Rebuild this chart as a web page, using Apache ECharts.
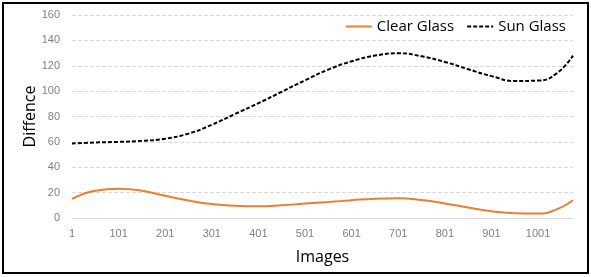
<!DOCTYPE html>
<html>
<head>
<meta charset="utf-8">
<script src="https://cdn.jsdelivr.net/npm/echarts@6/dist/echarts.min.js"></script>
<style>
    body { margin: 0; background: #fff; }
    #chart { width: 591px; height: 277px; }
</style>
</head>
<body>
<div id="chart"></div>
<script>
// image index (x) and differences
const images = [1, 51, 101, 151, 201, 251, 301, 351, 401, 451, 501, 551, 601, 651, 701, 751, 801, 851, 901, 951, 1001, 1041, 1076];
const clearGlass = [15, 21.5, 23, 21.5, 17.5, 13.8, 11, 9.6, 9.2, 10, 11.4, 12.6, 14, 15.2, 15.6, 14.2, 11.5, 8.2, 5.4, 3.7, 3.5, 6.8, 14];
const sunGlass = [58.8, 59.5, 60, 60.8, 62.5, 66.5, 73.5, 82, 90.5, 99.5, 108.5, 117, 123.5, 128, 129.8, 127.5, 123, 117.3, 111.8, 108, 108.3, 114, 128];
const yTicks = { min: 0, max: 160, step: 20 };

// x axis runs on (image - 1) so ticks fall on 1, 101, 201 ...
const pairs = (ys) => images.map((x, i) => [x - 1, ys[i]]);

const chart = echarts.init(document.getElementById("chart"));
chart.setOption({
    animation: false,
    grid: { left: 72, right: 18, top: 15, bottom: 59 },
    graphic: [
        {
            type: "rect",
            shape: { x: 3, y: 3, width: 585, height: 270 },
            style: { fill: "none", stroke: "#000", lineWidth: 2 },
        },
    ],
    legend: {
        right: 20,
        top: 14,
        itemWidth: 26,
        itemGap: 12,
        itemStyle: { opacity: 0 },
        textStyle: { fontSize: 15, color: "#000", fontFamily: "Open Sans" },
        data: ["Clear Glass", "Sun Glass"],
    },
    xAxis: {
        type: "value",
        min: 0,
        max: images[images.length - 1] - 1,
        interval: 100,
        name: "Images",
        nameLocation: "middle",
        nameGap: 31,
        nameTextStyle: { fontSize: 16, color: "#000", fontFamily: "Open Sans" },
        axisLine: { show: true, lineStyle: { color: "#d9d9d9" } },
        axisTick: { show: false },
        splitLine: { show: false },
        axisLabel: {
            color: "#7f7f7f",
            fontSize: 11,
            margin: 10,
            showMaxLabel: false,
            formatter: (v) => (v % 100 === 0 ? String(v + 1) : ""),
        },
    },
    yAxis: {
        type: "value",
        min: yTicks.min,
        max: yTicks.max,
        interval: yTicks.step,
        name: "Diffence",
        nameLocation: "middle",
        nameGap: 34,
        nameMoveOverlap: false,
        nameTextStyle: { fontSize: 16, color: "#000", fontFamily: "Open Sans" },
        axisLine: { show: false },
        axisTick: { show: false },
        axisLabel: { color: "#7f7f7f", fontSize: 11, margin: 12 },
        splitLine: { lineStyle: { color: "#d9d9d9", type: "dashed" } },
    },
    series: [
        {
            name: "Clear Glass",
            type: "line",
            smooth: true,
            symbol: "none",
            color: "#ed7d31",
            lineStyle: { width: 2, color: "#ed7d31" },
            data: pairs(clearGlass),
        },
        {
            name: "Sun Glass",
            type: "line",
            smooth: true,
            symbol: "none",
            color: "#000",
            lineStyle: { width: 2, color: "#000", type: [4, 2] },
            data: pairs(sunGlass),
        },
    ],
});
</script>
</body>
</html>
